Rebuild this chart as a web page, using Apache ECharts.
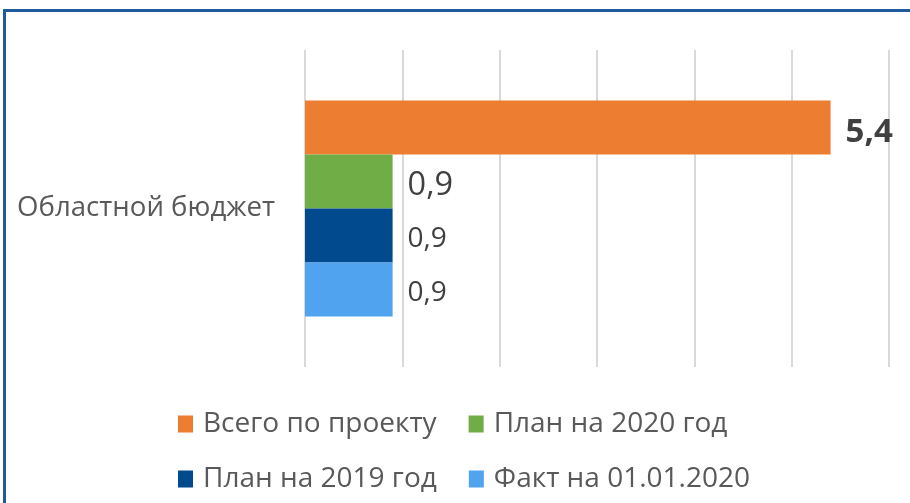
<!DOCTYPE html>
<html><head><meta charset="utf-8">
<script src="https://cdn.jsdelivr.net/npm/echarts@6/dist/echarts.min.js"></script>
<style>html,body{margin:0;padding:0;background:#fff}#c{width:910px;height:503px}</style>
</head><body><div id="c"></div>
<script>
var categories = ['Областной бюджет'];
var seriesNames = ['Всего по проекту', 'План на 2020 год', 'План на 2019 год', 'Факт на 01.01.2020'];
var vTotal = [5.4];
var vPlan2020 = [0.9];
var vPlan2019 = [0.9];
var vFact = [0.9];
var colors = ['#ED7D31', '#70AD47', '#024A8E', '#50A3EE'];
var FONT = '"Open Sans", "Noto Sans", sans-serif';
var fmt = function (p) { return String(p.value).replace('.', ','); };
function mk(i, data, lab) {
  return {
    name: seriesNames[i], type: 'bar', data: data, barWidth: 54, barGap: '0%',
    itemStyle: { color: colors[i] },
    label: Object.assign({ show: true, position: 'right', distance: 15, formatter: fmt, fontFamily: FONT, color: '#404040', offset: [0, 4] }, lab)
  };
}
var legendText = { fontSize: 28, color: '#595959', fontFamily: FONT, padding: [0, 0, 0, 5] };
var chart = echarts.init(document.getElementById('c'));
chart.setOption({
  animation: false,
  grid: { left: 305, right: 21, top: 50, bottom: 136 },
  xAxis: { type: 'value', min: 0, max: 6, interval: 1,
    axisLabel: { show: false }, axisLine: { show: false }, axisTick: { show: false },
    splitLine: { lineStyle: { color: '#D9D9D9', width: 2 } } },
  yAxis: { type: 'category', data: categories, inverse: true,
    axisLine: { show: false }, axisTick: { show: false },
    axisLabel: { fontSize: 27.6, color: '#595959', fontFamily: FONT, margin: 30, padding: [8, 0, 0, 0] } },
  legend: [
    { data: [seriesNames[0], seriesNames[1]], left: 173, top: 405, itemWidth: 15, itemHeight: 17, itemGap: 32,
      textStyle: legendText, icon: 'rect' },
    { data: [seriesNames[2], seriesNames[3]], left: 173, top: 460, itemWidth: 15, itemHeight: 17, itemGap: 32,
      textStyle: legendText, icon: 'rect' }
  ],
  graphic: [{ type: 'rect', shape: { x: 4.5, y: 10.5, width: 930, height: 520 },
    style: { fill: 'none', stroke: '#1F5A9A', lineWidth: 3 }, silent: true }],
  series: [
    mk(0, vTotal, { fontSize: 33, fontWeight: 'bold', offset: [0, 5] }),
    mk(1, vPlan2020, { fontSize: 32.5 }),
    mk(2, vPlan2019, { fontSize: 28 }),
    mk(3, vFact, { fontSize: 28 })
  ]
});
</script></body></html>
